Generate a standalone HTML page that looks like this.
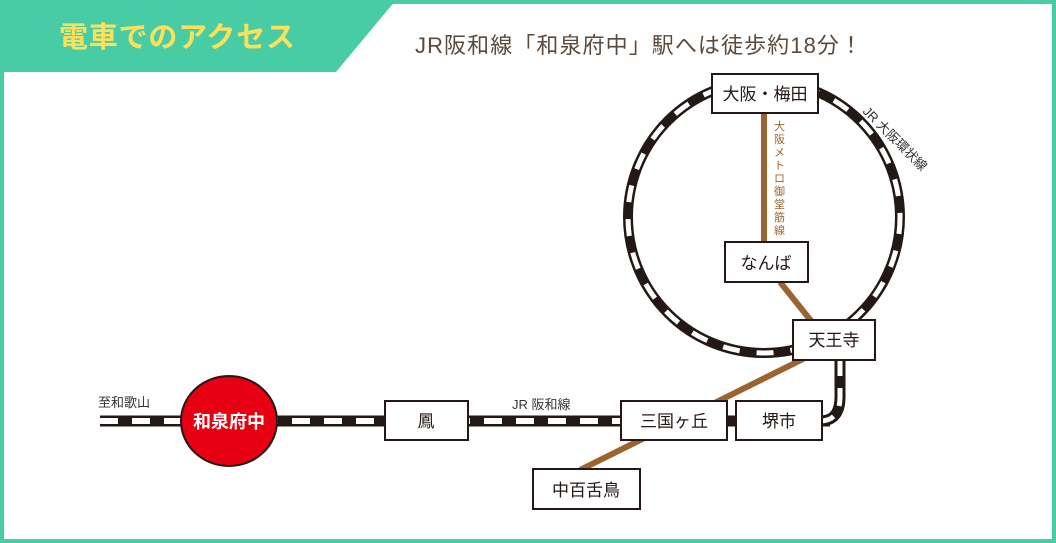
<!DOCTYPE html>
<html><head><meta charset="utf-8"><style>
html,body{margin:0;padding:0;background:#fff}
svg{display:block}
text{font-family:"Liberation Sans","Noto Sans CJK JP",sans-serif}
</style></head><body>
<svg width="1056" height="543" viewBox="0 0 1056 543" xmlns="http://www.w3.org/2000/svg">
<rect x="2" y="2" width="1052" height="539" fill="#fff" stroke="#48cca6" stroke-width="4"/>
<polygon points="0,0 396,0 336,72 0,72" fill="#48cca6"/>
<text x="59" y="47" font-size="29" font-weight="bold" fill="#fde05a" textLength="236">電車でのアクセス</text>
<text x="415" y="53" font-size="22" fill="#5b4a3c" textLength="447">JR阪和線「和泉府中」駅へは徒歩約18分！</text>

<!-- ring -->
<circle cx="764" cy="217" r="136" fill="none" stroke="#231815" stroke-width="10"/>
<circle cx="764" cy="217" r="136" fill="none" stroke="#fff" stroke-width="5" stroke-dasharray="17 17"/>
<text transform="translate(862,112) rotate(45)" font-size="13" fill="#333">JR 大阪環状線</text>

<!-- brown lines -->
<g stroke="#9a6430" stroke-width="6" fill="none">
<line x1="764" y1="113" x2="764" y2="242"/>
<line x1="780" y1="282" x2="812" y2="322"/>
<line x1="805" y1="358" x2="580" y2="470"/>
</g>
<g font-size="11" fill="#9a6430">
<text x="774" y="130">大</text><text x="774" y="143">阪</text><text x="774" y="156">メ</text><text x="774" y="169">ト</text><text x="774" y="182">ロ</text><text x="774" y="195">御</text><text x="774" y="208">堂</text><text x="774" y="221">筋</text><text x="774" y="234">線</text>
</g>

<!-- rails -->
<line x1="100" y1="421" x2="830" y2="421" stroke="#231815" stroke-width="11"/>
<line x1="100" y1="421" x2="830" y2="421" stroke="#fff" stroke-width="6" stroke-dasharray="18 14"/>
<path d="M840,358 V397 Q840,421 820,421" fill="none" stroke="#231815" stroke-width="11"/>
<path d="M840,358 V397 Q840,421 820,421" fill="none" stroke="#fff" stroke-width="5" stroke-dasharray="18 12"/>

<text x="98" y="407" font-size="13" fill="#333">至和歌山</text>
<text x="512" y="409" font-size="13" fill="#333">JR 阪和線</text>

<ellipse cx="229" cy="421" rx="48" ry="45" fill="#e60012" stroke="#231815" stroke-width="2"/>
<text x="229" y="428" font-size="18" font-weight="bold" fill="#fff" text-anchor="middle">和泉府中</text>

<g fill="#fff" stroke="#231815" stroke-width="2">
<rect x="712" y="74" width="106" height="39"/>
<rect x="725" y="242" width="83" height="40"/>
<rect x="793" y="320" width="82" height="40"/>
<rect x="621" y="401" width="106" height="39"/>
<rect x="736" y="401" width="86" height="39"/>
<rect x="385" y="401" width="83" height="39"/>
<rect x="533" y="469" width="107" height="40"/>
</g>
<g font-size="17" fill="#231815" text-anchor="middle">
<text x="765" y="100">大阪・梅田</text>
<text x="766" y="269">なんば</text>
<text x="834" y="346">天王寺</text>
<text x="674" y="427">三国ヶ丘</text>
<text x="779" y="427">堺市</text>
<text x="426" y="427">鳳</text>
<text x="586" y="496">中百舌鳥</text>
</g>
</svg>
</body></html>
